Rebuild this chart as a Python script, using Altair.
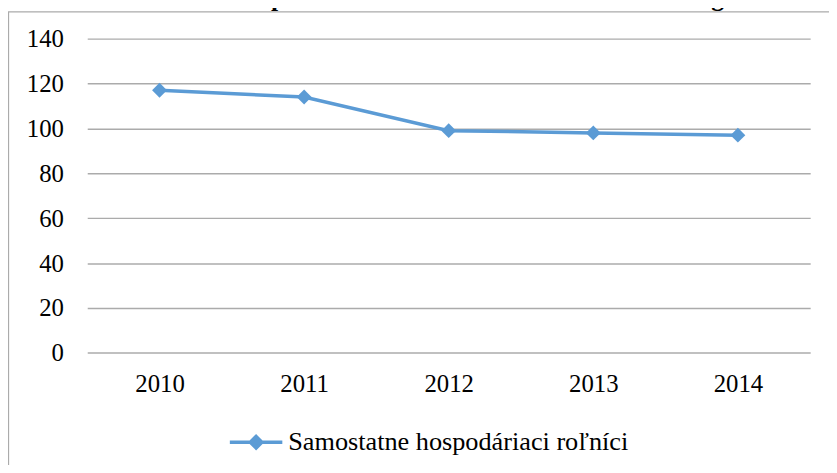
import altair as alt
import pandas as pd

# ---- data ----
years = ["2010", "2011", "2012", "2013", "2014"]
values = [117, 114, 99, 98, 97]
series_name = "Samostatne hospodáriaci roľníci"
y_ticks = [0, 20, 40, 60, 80, 100, 120, 140]
title_text = "Graf 13: Samostatne hospodáriaci roľníci v území MAS Mikroregión"

df = pd.DataFrame({"rok": years, "pocet": values, "rad": [series_name] * len(years)})
one = pd.DataFrame({"k": [0]})

FONT = "Liberation Serif"
BLUE = "#5B9BD5"
GRID = "#ABABAB"

x_enc = alt.X(
    "rok:O",
    title=None,
    scale=alt.Scale(type="point", padding=0.5),
    axis=alt.Axis(labelAngle=0, labelFont=FONT, labelFontSize=25, labelColor="black",
                  labelPadding=19, ticks=False, domain=False, grid=False),
)
y_enc = alt.Y(
    "pocet:Q",
    title=None,
    scale=alt.Scale(domain=[0, 140], nice=False, zero=True),
    axis=alt.Axis(values=y_ticks, labelFont=FONT, labelFontSize=25, labelColor="black",
                  labelPadding=24, ticks=False, domain=False,
                  gridColor=GRID, gridWidth=1.5),
)

frame = alt.Chart(one).mark_rect(filled=False, stroke=GRID, strokeWidth=1.3).encode(
    x=alt.value(-79.5), x2=alt.value(900), y=alt.value(-27), y2=alt.value(700)
)

title = alt.Chart(one).mark_text(
    text=title_text, font=FONT, fontSize=26, fontWeight="bold",
    align="left", baseline="bottom", color="black"
).encode(x=alt.value(-88), y=alt.value(-27.5))

legend_path = "M-1,0L1,0M0,-0.22L0.22,0L0,0.22L-0.22,0Z"

line = alt.Chart(df).mark_line(strokeWidth=3.5).encode(
    x=x_enc,
    y=y_enc,
    color=alt.Color(
        "rad:N",
        scale=alt.Scale(range=[BLUE]),
        legend=alt.Legend(
            title=None, orient="none", legendX=142, legendY=379,
            symbolType=legend_path, symbolSize=2809, symbolStrokeWidth=3.5,
            symbolFillColor=BLUE, symbolStrokeColor=BLUE,
            labelFont=FONT, labelFontSize=26.5, labelColor="black",
            labelOffset=4, labelLimit=1000,
        ),
    ),
)

points = alt.Chart(df).mark_point(
    shape="diamond", filled=True, size=225, color=BLUE, opacity=1
).encode(x=x_enc, y=y_enc)

chart = (
    alt.layer(frame, line, points, title)
    .properties(
        width=730,
        height=317.3,
        autosize=alt.AutoSizeParams(type="none"),
        padding={"left": 80, "top": 28.7, "right": 19, "bottom": 111},
        background="white",
    )
    .configure(font=FONT)
    .configure_axis(labelFont=FONT)
    .configure_legend(labelFont=FONT)
    .configure_view(stroke=None)
)

chart.save("out.html", embed_options={"renderer": "svg", "actions": False})
